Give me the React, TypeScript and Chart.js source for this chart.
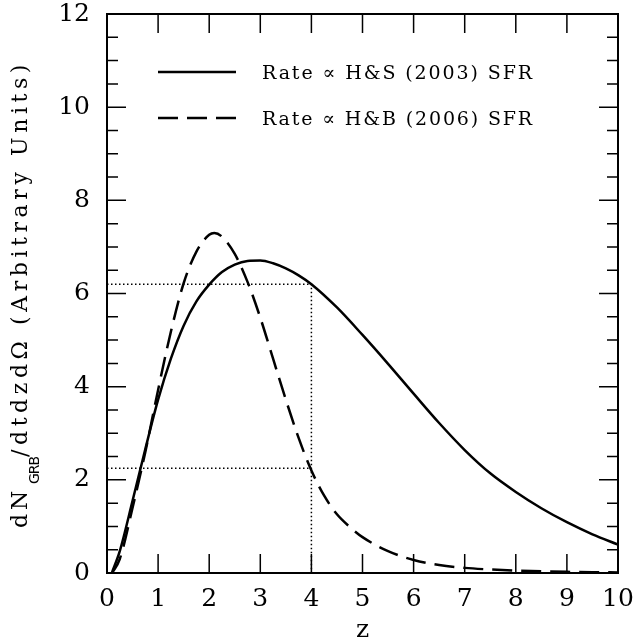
import React, { useEffect, useRef } from "react";
import { Chart, registerables } from "chart.js";

Chart.register(...registerables);

// Redshift grid and rates
const zHS = [0.1, 0.25, 0.5, 0.75, 1.0, 1.25, 1.5, 1.75, 2.0, 2.25, 2.5, 2.75, 3.0, 3.25, 3.5, 3.75, 4.0, 4.5, 5.0, 5.5, 6.0, 6.5, 7.0, 7.5, 8.0, 8.5, 9.0, 9.5, 10.0];
const rateHS = [0.02, 0.47, 1.55, 2.66, 3.72, 4.6, 5.31, 5.83, 6.19, 6.46, 6.62, 6.70, 6.71, 6.65, 6.54, 6.39, 6.2, 5.7, 5.11, 4.49, 3.85, 3.22, 2.64, 2.14, 1.74, 1.39, 1.09, 0.83, 0.61];

const zHB = [0.1, 0.25, 0.5, 0.75, 1.0, 1.25, 1.5, 1.75, 2.0, 2.1, 2.25, 2.5, 2.75, 3.0, 3.25, 3.5, 3.75, 4.0, 4.25, 4.5, 4.75, 5.0, 5.5, 6.0, 6.5, 7.0, 7.5, 8.0, 8.5, 9.0, 9.5, 10.0];
const rateHB = [0.0, 0.3, 1.4, 2.6, 3.93, 5.18, 6.22, 6.9, 7.26, 7.3, 7.22, 6.85, 6.25, 5.48, 4.6, 3.72, 2.9, 2.2, 1.66, 1.26, 0.99, 0.77, 0.47, 0.28, 0.17, 0.11, 0.075, 0.05, 0.035, 0.025, 0.018, 0.012];

// Dotted guide lines
const guideUpperZ = [0, 4, 4];
const guideUpperY = [6.2, 6.2, 0];
const guideLowerZ = [0, 4];
const guideLowerY = [2.25, 2.25];

const legendLabels = ["Rate \u221D H&S (2003) SFR", "Rate \u221D H&B (2006) SFR"];
const yTitleMain = "dN";
const yTitleSub = "GRB";
const yTitleRest = "/dtdzd\u03A9 (Arbitrary Units)";
const xTitle = "z";

const X_MIN = 0, X_MAX = 10, Y_MIN = 0, Y_MAX = 12;

const pts = (xs: number[], ys: number[]) => xs.map((x, i) => ({ x, y: ys[i] }));

function spacedText(ctx: CanvasRenderingContext2D, text: string, x: number, y: number, target: number) {
  (ctx as any).letterSpacing = "0px";
  const w = ctx.measureText(text).width;
  const ls = (target - w) / text.length;
  (ctx as any).letterSpacing = ls + "px";
  ctx.fillText(text, x, y);
  (ctx as any).letterSpacing = "0px";
}

const decorPlugin = {
  id: "decor",
  afterDatasetsDraw(chart: any) {
    const { ctx, chartArea: a, scales } = chart;
    const xs = scales.x, ys = scales.y;
    ctx.save();
    ctx.strokeStyle = "#000";
    ctx.fillStyle = "#000";
    // inward tick marks on all four sides
    ctx.lineWidth = 1.5;
    ctx.beginPath();
    for (let v = Y_MIN; v <= Y_MAX + 1e-9; v += 0.5) {
      const py = ys.getPixelForValue(v);
      const len = Math.abs(v % 2) < 1e-9 ? 19 : 11;
      ctx.moveTo(a.left, py); ctx.lineTo(a.left + len, py);
      ctx.moveTo(a.right, py); ctx.lineTo(a.right - len, py);
    }
    for (let v = X_MIN; v <= X_MAX; v += 1) {
      const px = xs.getPixelForValue(v);
      ctx.moveTo(px, a.bottom); ctx.lineTo(px, a.bottom - 19);
      ctx.moveTo(px, a.top); ctx.lineTo(px, a.top + 19);
    }
    ctx.stroke();
    // frame
    ctx.lineWidth = 2;
    ctx.strokeRect(a.left, a.top, a.right - a.left, a.bottom - a.top);

    // legend
    const legendY = [72, 118];
    [0, 1].forEach((i) => {
      const ds = chart.data.datasets[i];
      ctx.save();
      ctx.lineWidth = ds.borderWidth;
      ctx.setLineDash(ds.borderDash || []);
      ctx.beginPath();
      ctx.moveTo(158, legendY[i]);
      ctx.lineTo(236, legendY[i]);
      ctx.stroke();
      ctx.restore();
      ctx.font = "19px 'DejaVu Serif'";
      ctx.textAlign = "left";
      ctx.textBaseline = "alphabetic";
      spacedText(ctx, legendLabels[i], 262, legendY[i] + 7, 272);
    });

    // x title
    ctx.font = "25px 'DejaVu Serif'";
    ctx.textAlign = "center";
    ctx.textBaseline = "alphabetic";
    ctx.fillText(xTitle, (a.left + a.right) / 2, 637);

    // y title (rotated, with subscript)
    ctx.save();
    ctx.translate(27, 528);
    ctx.rotate(-Math.PI / 2);
    ctx.textAlign = "left";
    ctx.textBaseline = "alphabetic";
    ctx.font = "22px 'DejaVu Serif'";
    spacedText(ctx, yTitleMain, 0, 0, 41);
    ctx.font = "14px 'DejaVu Sans'";
    spacedText(ctx, yTitleSub, 44, 12, 27);
    ctx.font = "22px 'DejaVu Serif'";
    spacedText(ctx, yTitleRest, 71, 0, 397);
    ctx.restore();

    ctx.restore();
  },
};

export default function App() {
  const ref = useRef<HTMLCanvasElement | null>(null);
  useEffect(() => {
    if (!ref.current) return;
    const chart = new Chart(ref.current, {
      type: "line",
      data: {
        datasets: [
          {
            label: legendLabels[0],
            data: pts(zHS, rateHS),
            borderColor: "#000",
            borderWidth: 2.5,
            pointRadius: 0,
            cubicInterpolationMode: "monotone",
            fill: false,
          },
          {
            label: legendLabels[1],
            data: pts(zHB, rateHB),
            borderColor: "#000",
            borderWidth: 2.5,
            borderDash: [20, 9],
            pointRadius: 0,
            cubicInterpolationMode: "monotone",
            fill: false,
          },
          {
            label: "guide-upper",
            data: pts(guideUpperZ, guideUpperY),
            borderColor: "#000",
            borderWidth: 1.5,
            borderDash: [1.5, 2.5],
            pointRadius: 0,
            tension: 0,
            fill: false,
          },
          {
            label: "guide-lower",
            data: pts(guideLowerZ, guideLowerY),
            borderColor: "#000",
            borderWidth: 1.5,
            borderDash: [1.5, 2.5],
            pointRadius: 0,
            tension: 0,
            fill: false,
          },
        ],
      } as any,
      options: {
        responsive: false,
        animation: false,
        devicePixelRatio: 1,
        parsing: false as any,
        layout: { padding: { top: 14, right: 18, left: 0, bottom: 0 } },
        plugins: { legend: { display: false }, tooltip: { enabled: false } },
        scales: {
          x: {
            type: "linear",
            min: X_MIN,
            max: X_MAX,
            ticks: {
              stepSize: 1,
              autoSkip: false,
              maxRotation: 0,
              color: "#000",
              padding: 11,
              font: { family: "'DejaVu Serif'", size: 25 },
            },
            grid: { display: false, drawTicks: false },
            border: { display: false },
            afterFit: (s: any) => {
              s.height = 69;
              s.paddingLeft = 0;
              s.paddingRight = 0;
            },
          },
          y: {
            type: "linear",
            min: Y_MIN,
            max: Y_MAX,
            ticks: {
              stepSize: 2,
              color: "#000",
              padding: 17,
              font: { family: "'DejaVu Serif'", size: 25 },
            },
            grid: { display: false, drawTicks: false },
            border: { display: false },
            afterFit: (s: any) => {
              s.width = 107;
              s.paddingTop = 0;
              s.paddingBottom = 0;
            },
          },
        },
      } as any,
      plugins: [decorPlugin],
    });
    return () => chart.destroy();
  }, []);
  return (
    <div style={{ position: "absolute", left: 0, top: 0, width: 636, height: 642, background: "#fff" }}>
      <canvas ref={ref} width={636} height={642} style={{ display: "block", width: 636, height: 642 }} />
    </div>
  );
}
